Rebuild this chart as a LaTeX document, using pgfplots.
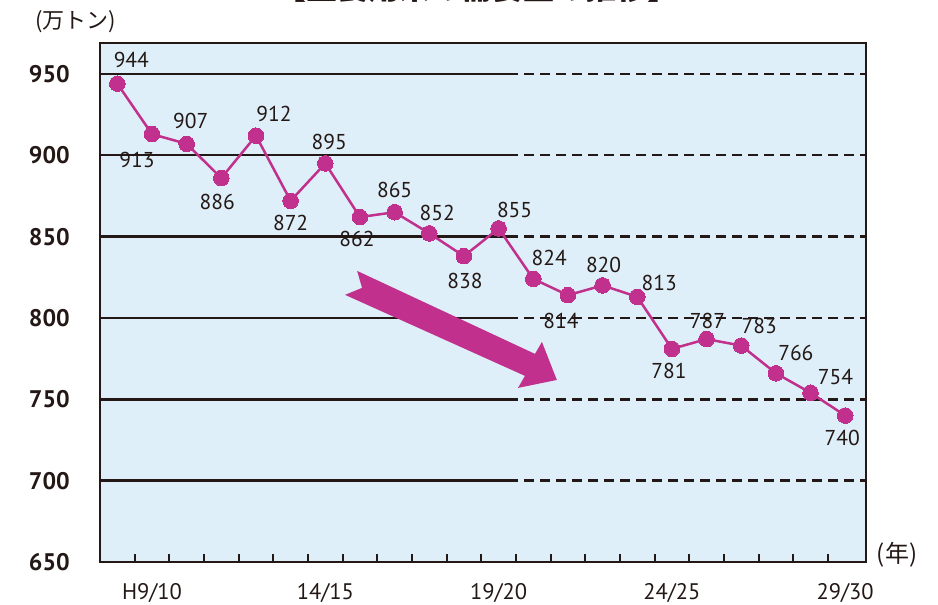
\documentclass[border=0pt]{standalone}
\usepackage{fontspec}
\setmainfont{PT Sans}
\newfontfamily\cjk{Noto Sans CJK JP}
\usepackage{pgfplots}
\pgfplotsset{compat=1.18}
\definecolor{bgblue}{RGB}{222,239,249}
\definecolor{mag}{RGB}{192,48,140}
\definecolor{ink}{RGB}{35,24,21}
\tikzset{lbl/.style={font=\fontsize{21.5}{21.5}\selectfont, text=ink, inner sep=0pt}}
\begin{document}
\begin{tikzpicture}
\useasboundingbox (-100pt,-43pt) rectangle (838pt,562pt);
\begin{axis}[
  scale only axis, width=766pt, height=519pt,
  at={(0pt,0pt)}, anchor=south west,
  xmin=-0.5, xmax=21.6, ymin=650, ymax=969,
  axis background/.style={fill=bgblue},
  axis line style={line width=2.7pt, draw=ink},
  xtick={1,6,11,16,21},
  xticklabels={H9/10,14/15,19/20,24/25,29/30},
  minor xtick={0.5,1.5,...,20.5},
  ytick={650,700,750,800,850,900,950},
  major tick length=0pt, minor tick length=8pt,
  tick align=inside, xtick pos=bottom, ytick pos=left,
  minor tick style={line width=2pt, draw=ink},
  major tick style={draw=none},
  xticklabel style={font=\fontsize{22.5}{22.5}\selectfont, anchor=base, inner sep=0pt, yshift=-38pt, text=ink},
  yticklabel style={font=\bfseries\fontsize{24}{24}\selectfont, inner sep=0pt, xshift=-30pt, text=ink},
  /pgf/number format/assume math mode=true,
  /pgf/number format/1000 sep={},
  clip=false,
]
% gridlines: solid part, then dashed part
\draw[line width=2.4pt, ink] (axis cs:-0.5,700) -- (axis cs:11.4,700);
\draw[line width=2.4pt, ink] (axis cs:-0.5,750) -- (axis cs:11.4,750);
\draw[line width=2.4pt, ink] (axis cs:-0.5,800) -- (axis cs:11.4,800);
\draw[line width=2.4pt, ink] (axis cs:-0.5,850) -- (axis cs:11.4,850);
\draw[line width=2.4pt, ink] (axis cs:-0.5,900) -- (axis cs:11.4,900);
\draw[line width=2.4pt, ink] (axis cs:-0.5,950) -- (axis cs:11.4,950);
\draw[line width=2.4pt, ink, dash pattern=on 10pt off 6pt, dash phase=4pt] (axis cs:11.4,700) -- (axis cs:21.6,700);
\draw[line width=2.4pt, ink, dash pattern=on 10pt off 6pt, dash phase=4pt] (axis cs:11.4,750) -- (axis cs:21.6,750);
\draw[line width=2.4pt, ink, dash pattern=on 10pt off 6pt, dash phase=4pt] (axis cs:11.4,800) -- (axis cs:21.6,800);
\draw[line width=2.4pt, ink, dash pattern=on 10pt off 6pt, dash phase=4pt] (axis cs:11.4,850) -- (axis cs:21.6,850);
\draw[line width=2.4pt, ink, dash pattern=on 10pt off 6pt, dash phase=4pt] (axis cs:11.4,900) -- (axis cs:21.6,900);
\draw[line width=2.4pt, ink, dash pattern=on 10pt off 6pt, dash phase=4pt] (axis cs:11.4,950) -- (axis cs:21.6,950);
% trend arrow
\fill[mag] (axis cs:6.92,828.9) -- (axis cs:12.05,777.9) -- (axis cs:12.25,785.3)
  -- (axis cs:12.68,761.9) -- (axis cs:11.56,757.0) -- (axis cs:11.76,764.4)
  -- (axis cs:6.57,814.2) -- (axis cs:7.06,818.5) -- cycle;
\addplot[mag, line width=2.5pt, mark=*, mark size=7.8pt,
  mark options={fill=mag, draw=mag, line width=0pt}] coordinates {
  (0,944) (1,913) (2,907) (3,886) (4,912) (5,872) (6,895) (7,862)
  (8,865) (9,852) (10,838) (11,855) (12,824) (13,814) (14,820) (15,813)
  (16,781) (17,787) (18,783) (19,766) (20,754) (21,740)};
% value labels
\node[lbl, xshift=14pt, yshift=24pt] at (axis cs:0,944) {944};
\node[lbl, xshift=-15pt, yshift=-26pt] at (axis cs:1,913) {913};
\node[lbl, xshift=4pt, yshift=23pt] at (axis cs:2,907) {907};
\node[lbl, xshift=-4pt, yshift=-24pt] at (axis cs:3,886) {886};
\node[lbl, xshift=18pt, yshift=22pt] at (axis cs:4,912) {912};
\node[lbl, xshift=0pt, yshift=-22pt] at (axis cs:5,872) {872};
\node[lbl, xshift=4pt, yshift=21pt] at (axis cs:6,895) {895};
\node[lbl, xshift=-3pt, yshift=-22pt] at (axis cs:7,862) {862};
\node[lbl, xshift=0pt, yshift=22pt] at (axis cs:8,865) {865};
\node[lbl, xshift=8pt, yshift=20pt] at (axis cs:9,852) {852};
\node[lbl, xshift=1pt, yshift=-25pt] at (axis cs:10,838) {838};
\node[lbl, xshift=16pt, yshift=18pt] at (axis cs:11,855) {855};
\node[lbl, xshift=16pt, yshift=21pt] at (axis cs:12,824) {824};
\node[lbl, xshift=-7pt, yshift=-26pt] at (axis cs:13,814) {814};
\node[lbl, xshift=1pt, yshift=20pt] at (axis cs:14,820) {820};
\node[lbl, xshift=22pt, yshift=14pt] at (axis cs:15,813) {813};
\node[lbl, xshift=-3pt, yshift=-22pt] at (axis cs:16,781) {781};
\node[lbl, xshift=1pt, yshift=18pt] at (axis cs:17,787) {787};
\node[lbl, xshift=18pt, yshift=20pt] at (axis cs:18,783) {783};
\node[lbl, xshift=20pt, yshift=20pt] at (axis cs:19,766) {766};
\node[lbl, xshift=25pt, yshift=16pt] at (axis cs:20,754) {754};
\node[lbl, xshift=-3pt, yshift=-22pt] at (axis cs:21,740) {740};
% unit labels
\node[font=\cjk\fontsize{22}{22}\selectfont, text=ink, inner sep=0pt, xshift=-24pt, yshift=21pt] at (rel axis cs:0,1) {(万トン)};
\node[font=\cjk\fontsize{24}{24}\selectfont, text=ink, inner sep=0pt, xshift=31pt, yshift=7pt] at (rel axis cs:1,0) {(年)};
\end{axis}
\node[font=\cjk\bfseries\fontsize{31}{31}\selectfont, text=ink, inner sep=0pt, anchor=base] at (377pt,562.5pt) {【主食用米の需要量の推移】};
\end{tikzpicture}
\end{document}
